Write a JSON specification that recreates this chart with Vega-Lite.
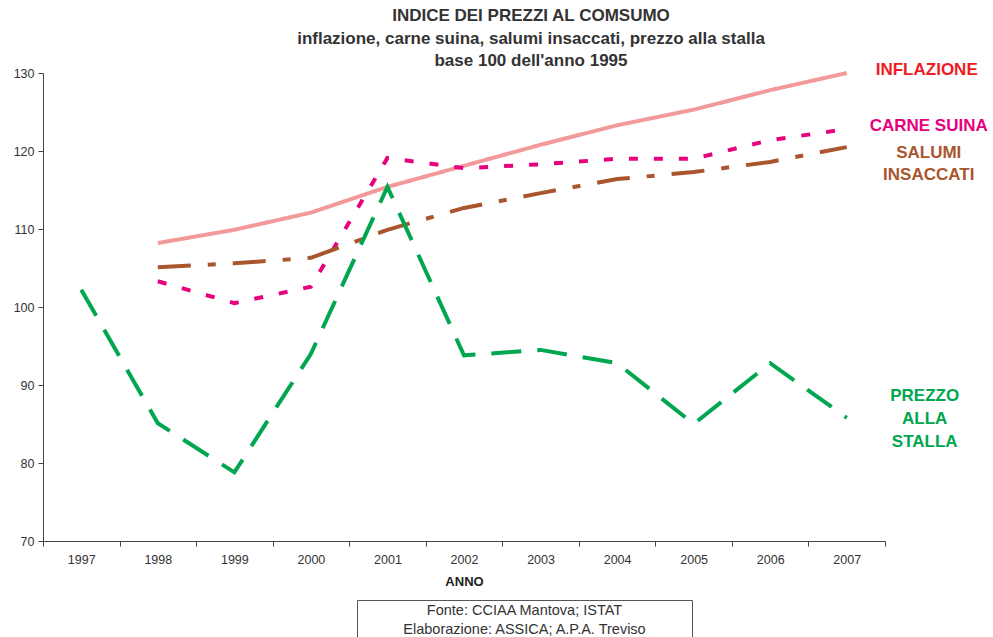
{
  "$schema": "https://vega.github.io/schema/vega-lite/v6.json",
  "background": "white",
  "padding": {"left": 13, "top": 7, "right": 0, "bottom": 0},
  "config": {
    "font": "Liberation Sans",
    "view": {"stroke": null},
    "axis": {"domainColor": "#444", "tickColor": "#444", "labelColor": "#333", "titleColor": "#222", "grid": false, "labelFont": "Liberation Sans", "titleFont": "Liberation Sans"}
  },
  "datasets": {
    "series": [
      {"year": "1998", "series": "Inflazione", "value": 108.2},
      {"year": "1999", "series": "Inflazione", "value": 109.9},
      {"year": "2000", "series": "Inflazione", "value": 112.1},
      {"year": "2001", "series": "Inflazione", "value": 115.4},
      {"year": "2002", "series": "Inflazione", "value": 118.1},
      {"year": "2003", "series": "Inflazione", "value": 120.8},
      {"year": "2004", "series": "Inflazione", "value": 123.3},
      {"year": "2005", "series": "Inflazione", "value": 125.3},
      {"year": "2006", "series": "Inflazione", "value": 127.8},
      {"year": "2007", "series": "Inflazione", "value": 130.0},
      {"year": "1998", "series": "Carne suina", "value": 103.3},
      {"year": "1999", "series": "Carne suina", "value": 100.5},
      {"year": "2000", "series": "Carne suina", "value": 102.6},
      {"year": "2001", "series": "Carne suina", "value": 119.1},
      {"year": "2002", "series": "Carne suina", "value": 117.8},
      {"year": "2003", "series": "Carne suina", "value": 118.3},
      {"year": "2004", "series": "Carne suina", "value": 119.0},
      {"year": "2005", "series": "Carne suina", "value": 119.0},
      {"year": "2006", "series": "Carne suina", "value": 121.4},
      {"year": "2007", "series": "Carne suina", "value": 122.8},
      {"year": "1998", "series": "Salumi insaccati", "value": 105.1},
      {"year": "1999", "series": "Salumi insaccati", "value": 105.6},
      {"year": "2000", "series": "Salumi insaccati", "value": 106.3},
      {"year": "2001", "series": "Salumi insaccati", "value": 109.9},
      {"year": "2002", "series": "Salumi insaccati", "value": 112.7},
      {"year": "2003", "series": "Salumi insaccati", "value": 114.6},
      {"year": "2004", "series": "Salumi insaccati", "value": 116.4},
      {"year": "2005", "series": "Salumi insaccati", "value": 117.3},
      {"year": "2006", "series": "Salumi insaccati", "value": 118.6},
      {"year": "2007", "series": "Salumi insaccati", "value": 120.5},
      {"year": "1997", "series": "Prezzo alla stalla", "value": 102.2},
      {"year": "1998", "series": "Prezzo alla stalla", "value": 85.1},
      {"year": "1999", "series": "Prezzo alla stalla", "value": 78.8},
      {"year": "2000", "series": "Prezzo alla stalla", "value": 94.0},
      {"year": "2001", "series": "Prezzo alla stalla", "value": 115.4},
      {"year": "2002", "series": "Prezzo alla stalla", "value": 93.8},
      {"year": "2003", "series": "Prezzo alla stalla", "value": 94.5},
      {"year": "2004", "series": "Prezzo alla stalla", "value": 92.8},
      {"year": "2005", "series": "Prezzo alla stalla", "value": 85.0},
      {"year": "2006", "series": "Prezzo alla stalla", "value": 92.8},
      {"year": "2007", "series": "Prezzo alla stalla", "value": 85.8}
    ]
  },
  "vconcat": [
    {
      "width": 842,
      "height": 468,
      "title": {
        "text": ["INDICE DEI PREZZI AL COMSUMO", "inflazione, carne suina, salumi insaccati, prezzo alla stalla", "base 100 dell'anno 1995"],
        "fontSize": 17,
        "fontWeight": "bold",
        "color": "#333",
        "lineHeight": 22.5,
        "anchor": "middle",
        "dx": 67,
        "offset": -9
      },
      "data": {"name": "series"},
      "encoding": {
        "x": {
          "field": "year",
          "type": "ordinal",
          "bandPosition": 0.5,
          "scale": {"type": "band", "paddingInner": 0, "paddingOuter": 0, "domain": ["1997", "1998", "1999", "2000", "2001", "2002", "2003", "2004", "2005", "2006", "2007"]},
          "axis": {"title": "ANNO", "labelAngle": 0, "tickBand": "extent", "labelFontSize": 12.5, "labelPadding": 7, "tickSize": 5, "titleFontSize": 13, "titleFontWeight": "bold", "titlePadding": 10}
        },
        "y": {
          "field": "value",
          "type": "quantitative",
          "scale": {"domain": [70, 130], "nice": false, "zero": false},
          "axis": {"title": null, "values": [70, 80, 90, 100, 110, 120, 130], "labelFontSize": 12.5, "tickSize": 5, "labelPadding": 4}
        }
      },
      "layer": [
        {
          "mark": {"type": "line", "strokeWidth": 4, "strokeCap": "butt", "strokeJoin": "miter"},
          "encoding": {
            "color": {
              "field": "series",
              "type": "nominal",
              "legend": null,
              "scale": {"domain": ["Inflazione", "Carne suina", "Salumi insaccati", "Prezzo alla stalla"], "range": ["#f29a9a", "#e6007e", "#a9552e", "#00a650"]}
            },
            "strokeDash": {
              "field": "series",
              "type": "nominal",
              "legend": null,
              "scale": {"domain": ["Inflazione", "Carne suina", "Salumi insaccati", "Prezzo alla stalla"], "range": [[1, 0], [9, 16], [33, 17, 8, 17], [30, 16]]}
            }
          }
        },
        {
          "transform": [{"filter": "datum.series === 'Inflazione' && datum.year === '2007'"}],
          "mark": {"type": "text", "dx": 80, "dy": -3, "fontSize": 17, "fontWeight": "bold", "color": "#ee1c25", "align": "center", "baseline": "middle"},
          "encoding": {"text": {"value": "INFLAZIONE"}}
        },
        {
          "transform": [{"filter": "datum.series === 'Carne suina' && datum.year === '2007'"}],
          "mark": {"type": "text", "dx": 82, "dy": -3, "fontSize": 17, "fontWeight": "bold", "color": "#e6007e", "align": "center", "baseline": "middle"},
          "encoding": {"text": {"value": "CARNE SUINA"}}
        },
        {
          "transform": [{"filter": "datum.series === 'Salumi insaccati' && datum.year === '2007'"}],
          "mark": {"type": "text", "dx": 82, "dy": 6, "fontSize": 17, "fontWeight": "bold", "color": "#a9552e", "align": "center", "baseline": "middle", "lineHeight": 22},
          "encoding": {"text": {"value": ["SALUMI", "INSACCATI"]}}
        },
        {
          "transform": [{"filter": "datum.series === 'Prezzo alla stalla' && datum.year === '2007'"}],
          "mark": {"type": "text", "dx": 78, "dy": -22, "fontSize": 17, "fontWeight": "bold", "color": "#00a650", "align": "center", "baseline": "middle", "lineHeight": 23},
          "encoding": {"text": {"value": ["PREZZO", "ALLA", "STALLA"]}}
        }
      ]
    },
    {
      "spacing": 10,
      "hconcat": [
        {
          "width": 303,
          "height": 40,
          "data": {"values": [{"note": ""}]},
          "mark": {"type": "text"},
          "encoding": {"text": {"field": "note"}}
        },
        {
          "width": 335,
          "height": 40,
          "view": {"stroke": "#555", "strokeWidth": 1},
          "data": {"values": [{"note": "footer"}]},
          "mark": {"type": "text", "fontSize": 14.5, "color": "#333", "align": "center", "baseline": "middle", "lineHeight": 18.5, "dy": -9},
          "encoding": {"text": {"value": ["Fonte: CCIAA Mantova; ISTAT", "Elaborazione: ASSICA; A.P.A. Treviso"]}}
        }
      ]
    }
  ],
  "spacing": 10
}
